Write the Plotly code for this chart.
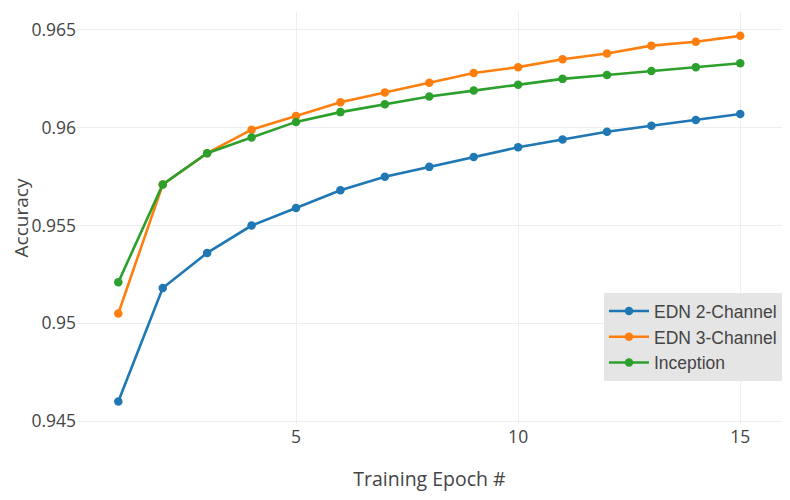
import plotly.graph_objects as go

epochs = list(range(1, 16))
edn2 = [0.9460, 0.9518, 0.9536, 0.9550, 0.9559, 0.9568, 0.9575, 0.9580,
        0.9585, 0.9590, 0.9594, 0.9598, 0.9601, 0.9604, 0.9607]
edn3 = [0.9505, 0.9571, 0.9587, 0.9599, 0.9606, 0.9613, 0.9618, 0.9623,
        0.9628, 0.9631, 0.9635, 0.9638, 0.9642, 0.9644, 0.9647]
inception = [0.9521, 0.9571, 0.9587, 0.9595, 0.9603, 0.9608, 0.9612, 0.9616,
             0.9619, 0.9622, 0.9625, 0.9627, 0.9629, 0.9631, 0.9633]

names = ["EDN 2-Channel", "EDN 3-Channel", "Inception"]
colors = ["#1f77b4", "#ff7f0e", "#2ca02c"]

fig = go.Figure()
for name, vals, col in zip(names, [edn2, edn3, inception], colors):
    fig.add_trace(go.Scatter(x=epochs, y=vals, mode="lines+markers", name=name,
                             line=dict(color=col, width=2.6),
                             marker=dict(color=col, size=8.5)))

fig.update_layout(
    width=774, height=484,
    margin=dict(l=69, r=0, t=4, b=68, autoexpand=False),
    paper_bgcolor="white", plot_bgcolor="white",
    font=dict(family="Open Sans, verdana, arial, sans-serif", color="#444"),
    showlegend=True,
    legend=dict(x=1.0, xanchor="right", y=0.104, yanchor="bottom",
                itemwidth=40, borderwidth=0,
                bgcolor="#e5e5e5", font=dict(family="Arial", size=17.5, color="#444")),
    xaxis=dict(range=[0.07, 15.94], tickvals=[5, 10, 15], showgrid=True,
               gridcolor="#eee", zeroline=False, showline=False, automargin=False,
               tickfont=dict(size=17.5),
               title=dict(text="Training Epoch #", font=dict(size=19.5), standoff=25)),
    yaxis=dict(range=[0.94485, 0.96592], tickvals=[0.945, 0.95, 0.955, 0.96, 0.965],
               ticktext=["0.945", "0.95", "0.955", "0.96", "0.965"],
               showgrid=True, gridcolor="#eee", zeroline=False, showline=False,
               automargin=False, tickfont=dict(size=17.5),
               title=dict(text="Accuracy", font=dict(size=19), standoff=12)),
)

fig.write_html("out.html")
